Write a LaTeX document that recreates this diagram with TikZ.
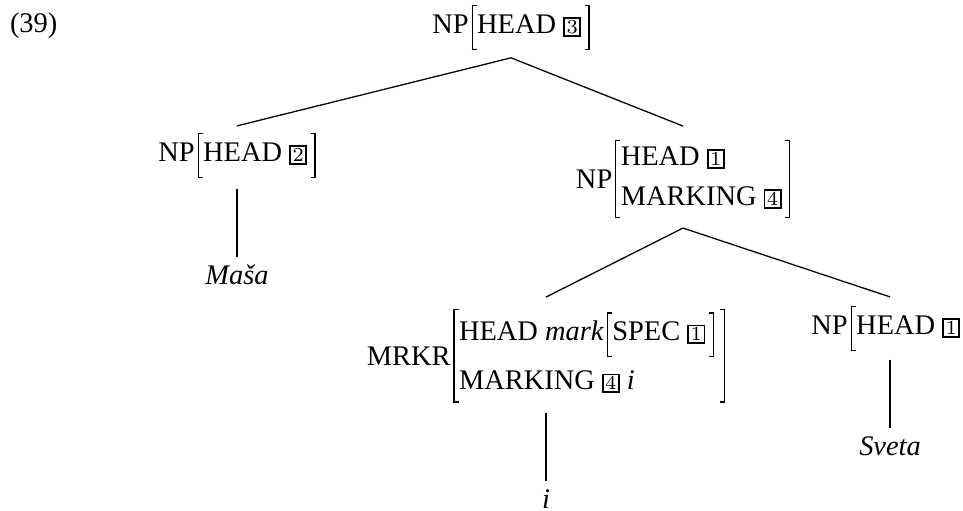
\documentclass[tikz,border=0pt]{standalone}
\usepackage{fontspec}
\setmainfont{Liberation Serif}
\newcommand\LB[2]{\vrule height #1 depth #2 width 0.45pt\kern-0.45pt\rule[-#2]{1.8pt}{0.45pt}\kern-1.8pt\rule[\dimexpr #1-0.45pt\relax]{1.8pt}{0.45pt}\kern0.2pt}
\newcommand\RB[2]{\kern1.2pt\rule[-#2]{1.8pt}{0.45pt}\kern-1.8pt\rule[\dimexpr #1-0.45pt\relax]{1.8pt}{0.45pt}\kern-0.45pt\vrule height #1 depth #2 width 0.45pt}
\newcommand\tg[1]{{\setlength\fboxsep{0.55pt}\setlength\fboxrule{0.6pt}\fbox{\fontsize{7}{8}\selectfont$#1$}}}
\newcommand\avmone[2]{#1\kern1pt\LB{10pt}{5.8pt}#2\RB{10pt}{5.8pt}}
\begin{document}
\begin{tikzpicture}[x=0.352pt,y=-0.352pt,
  every node/.style={inner sep=0pt,outer sep=0pt},
  avm/.style={anchor=north},
  leaf/.style={font=\itshape,text height=7pt,text depth=0pt,anchor=base},
  edge/.style={line width=0.45pt}]
\useasboundingbox (0,0) rectangle (963,510);
\node[anchor=base west] (ex) at (10,33) {(39)};
\node[avm] (top) at (511,5) {\avmone{NP}{HEAD \tg{3}}};
\node[avm] (left) at (237,133) {\avmone{NP}{HEAD \tg{2}}};
\node[avm] (right) at (683,140) {\raisebox{-8pt}{NP}\kern1pt\LB{9pt}{18.5pt}\vtop{\baselineskip=14pt\lineskiplimit=-100pt\hbox{HEAD \tg{1}}\hbox{MARKING \tg{4}}}\RB{9pt}{18.5pt}};
\node[avm] (mrkr) at (546,309) {\raisebox{-8.6pt}{MRKR}\kern1pt\LB{11.2pt}{21.8pt}\vtop{\baselineskip=17.2pt\lineskiplimit=-100pt\hbox{HEAD \textit{mark}\kern1pt\LB{10pt}{5.8pt}SPEC \tg{1}\RB{10pt}{5.8pt}}\hbox{MARKING \tg{4} \textit{i}}}\kern1pt\RB{11.2pt}{21.8pt}};
\node[avm] (np3) at (890,306) {\avmone{NP}{HEAD \tg{1}}};
\node[leaf] (masa) at (237,284) {Maša};
\node[leaf] (i) at (546,508) {i};
\node[leaf] (sveta) at (890,455) {Sveta};
\draw[edge] ([yshift=2.5pt]left.north) -- ([yshift=-2.8pt]top.south) -- ([yshift=4.9pt]right.north);
\draw[edge] ([yshift=-3.9pt]left.south) -- ([yshift=2.5pt]masa.north);
\draw[edge] ([yshift=4.2pt]mrkr.north) -- ([yshift=-3.5pt]right.south) -- ([yshift=3.2pt]np3.north);
\draw[edge] ([yshift=-3.6pt]mrkr.south) -- ([yshift=2.5pt]i.north);
\draw[edge] ([yshift=-3.2pt]np3.south) -- ([yshift=2.5pt]sveta.north);
\end{tikzpicture}
\end{document}
